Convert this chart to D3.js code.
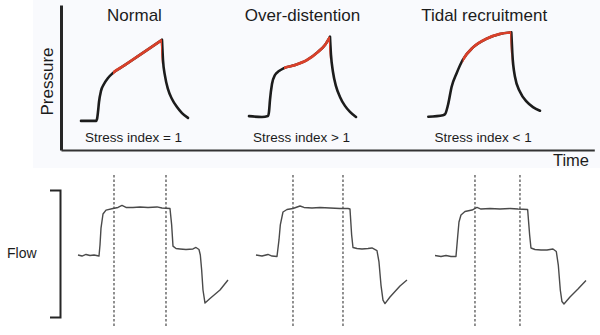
<!DOCTYPE html>
<html>
<head>
<meta charset="utf-8">
<script src="https://cdn.jsdelivr.net/npm/d3@7"></script>
<style>
  body { margin: 0; background: #ffffff; }
  svg { display: block; }
  text { font-family: "Liberation Sans", Arial, Helvetica, sans-serif; fill: #1c1c1c; }
</style>
</head>
<body>
<svg id="chart" width="600" height="335"></svg>
<script>
// ---- data -------------------------------------------------------------
// time in centiseconds along a shared axis, pressure in cmH2O, flow in L/min
const panelTitles = ["Normal", "Over-distention", "Tidal recruitment"];
const stressLabels = ["Stress index = 1", "Stress index > 1", "Stress index < 1"];

// airway pressure, one breath per condition: [time, pressure]
const pressureNormal = [
  [30, 4.7], [52.5, 4.7], [54, 5.3], [55.5, 7.7], [57, 11], [60, 14.7],
  [64.5, 17], [70.5, 19], [78, 20.7], [95, 23.2], [115, 26.2], [135, 29.2],
  [151.5, 31.7], [153, 25], [156, 19.7], [160.5, 15.3], [166.5, 12], [174, 9.3],
  [181.5, 7.3], [190.5, 5.7]
];
const pressureOverDistention = [
  [282, 6.3], [301.5, 6], [310.5, 6.3], [312, 7.7], [313.5, 11.7], [316.5, 17],
  [321, 20], [327, 21.3], [334.5, 22.3], [351, 23.3], [369, 25], [385.5, 27.7],
  [396, 30], [403.5, 32.7], [405, 26.7], [408, 21], [412.5, 16.3], [418.5, 12.7],
  [426, 9.7], [433.5, 7.7], [442.5, 6]
];
const pressureTidalRecruitment = [
  [551, 6.1], [573, 6.6], [576, 6.9], [580.5, 10], [586, 16.1], [593.5, 20.6],
  [602.5, 25], [618, 29.2], [638.5, 32.1], [658.5, 33.7], [675.5, 34.2],
  [677, 27.3], [681, 19.4], [688.5, 14.4], [698.5, 11.1], [708, 9.3], [718.5, 8.1]
];

// time span of the constant-flow inflation used for the stress index
const inflationNormal = [78, 151.5];
const inflationOverDistention = [334.5, 403.5];
const inflationTidalRecruitment = [602.5, 675.5];

// inspiratory flow, one breath per condition: [time, flow]
const flowNormal = [
  [25.5, -1.4], [31.5, -2.4], [37.5, -0.9], [43.5, -1.9], [49.5, -1.4], [57, -2.4],
  [58.5, 8], [60, 24], [63, 37.3], [67.5, 41], [78, 42.5], [85.5, 43.5], [91.5, 45.4],
  [97.5, 43.5], [108, 43.5], [118.5, 44], [130.5, 43.5], [144, 44], [151.5, 43],
  [163.5, 42.5], [166, 27], [168, 7], [172.5, 4.7], [178.5, 4.3], [187.5, 3.8],
  [198, 4.3], [202.5, 5.7], [207, 3.8], [209, -1.4], [211, -15.6], [213, -34.5],
  [216, -46.8], [223.5, -42.5], [238.5, -34.5], [250.5, -25]
];
const flowOverDistention = [
  [292.5, -1.4], [301.5, -2.4], [310.5, -0.9], [316.5, -2.4], [324, -2.8],
  [327, 12.8], [329, 27], [333, 39.2], [339, 41.6], [348, 42.5], [358.5, 44.9],
  [364.5, 43.5], [376.5, 43], [388.5, 43.5], [403.5, 43], [418.5, 42.5],
  [430.5, 42.5], [433.5, 42], [436, 17.5], [438, 5.7], [444, 4.7], [451.5, 4.3],
  [460.5, 4.7], [466.5, 5.2], [474, 2.8], [477, -8], [480, -29.8], [483, -44],
  [486, -47.3], [493.5, -41.1], [508.5, -30.7], [519, -25]
];
const flowTidalRecruitment = [
  [561, -1.9], [570, -2.8], [577.5, -1.9], [585, -2.8], [592.5, -2.8], [595, 15.6],
  [597, 29.8], [600, 36.4], [606, 39.7], [616.5, 41.1], [624, 43.5], [630, 42],
  [643.5, 42.5], [658.5, 42], [673.5, 42.5], [685.5, 42], [700, 41.6], [703, 17.5],
  [705, 5.2], [711, 3.8], [720, 3.3], [729, 3.3], [738, 4.3], [743, 1.9],
  [746, -10.9], [749, -34.5], [751.5, -45.4], [754.5, -47.7], [763.5, -41.1],
  [775.5, -33.6], [787.5, -25.5]
];

// dashed markers bracketing the constant-flow window
const flowWindowNormal = [79.5, 157.5];
const flowWindowOverDistention = [348, 423];
const flowWindowTidalRecruitment = [621, 688.5];

// ---- drawing ----------------------------------------------------------
const svg = d3.select("#chart");
const defs = svg.append("defs");

const x = d3.scaleLinear().domain([0, 800]).range([61, 594.3]);
const yP = d3.scaleLinear().domain([0, 35]).range([135, 30]);
const yF = d3.scaleLinear().domain([-60, 60]).range([317, 190]);

const ink = "#1c1c1c";

// faint panel behind the pressure plot
svg.append("rect")
  .attr("x", 33).attr("y", 0).attr("width", 567).attr("height", 168)
  .attr("fill", "#f9fafd");

// pressure frame: vertical and horizontal axis lines
const yFrame = d3.scaleLinear().domain([yP.invert(150), yP.invert(5)]).range([150, 5]);
svg.append("g")
  .attr("transform", `translate(${x.range()[0]},0)`)
  .call(d3.axisLeft(yFrame).tickValues([]).tickSizeOuter(0))
  .call(g => g.select(".domain").attr("stroke", "#262626").attr("stroke-width", 3));
svg.append("g")
  .attr("transform", `translate(0,150)`)
  .call(d3.axisBottom(x).tickValues([]).tickSizeOuter(0))
  .call(g => g.select(".domain").attr("stroke", "#333").attr("stroke-width", 2));

svg.append("text")
  .attr("transform", `translate(52.5,${(yFrame.range()[0] + yFrame.range()[1]) / 2 + 4}) rotate(-90)`)
  .attr("text-anchor", "middle")
  .style("font-size", "17px")
  .text("Pressure");
svg.append("text")
  .attr("x", 589).attr("y", 165.5)
  .attr("text-anchor", "end")
  .style("font-size", "16.5px")
  .text("Time");

const pressureLine = d3.line()
  .x(d => x(d[0])).y(d => yP(d[1]))
  .curve(d3.curveMonotoneX);

// inflation and release are smoothed separately so the end-inspiratory peak stays sharp
function pressurePath(points) {
  const peak = d3.maxIndex(points, d => d[1]);
  return pressureLine(points.slice(0, peak + 1)) + pressureLine(points.slice(peak));
}

const breaths = [
  { p: pressureNormal, win: inflationNormal, flow: flowNormal, marks: flowWindowNormal },
  { p: pressureOverDistention, win: inflationOverDistention, flow: flowOverDistention, marks: flowWindowOverDistention },
  { p: pressureTidalRecruitment, win: inflationTidalRecruitment, flow: flowTidalRecruitment, marks: flowWindowTidalRecruitment }
];

breaths.forEach((b, i) => {
  const ext = d3.extent(b.p, d => d[0]);
  const cx = x((ext[0] + ext[1]) / 2);

  svg.append("text")
    .attr("x", cx).attr("y", 21)
    .attr("text-anchor", "middle")
    .style("font-size", "17px")
    .text(panelTitles[i]);

  svg.append("text")
    .attr("x", cx - 1).attr("y", 141.5)
    .attr("text-anchor", "middle")
    .style("font-size", "13.5px")
    .text(stressLabels[i]);

  const d = pressurePath(b.p);

  svg.append("path")
    .attr("d", d)
    .attr("fill", "none")
    .attr("stroke", ink)
    .attr("stroke-width", 2.6)
    .attr("stroke-linecap", "round")
    .attr("stroke-linejoin", "round");

  // highlight the inflation window in red on top of the same trace
  const clipId = `inflation-${i}`;
  defs.append("clipPath").attr("id", clipId)
    .append("rect")
    .attr("x", x(b.win[0])).attr("width", x(b.win[1]) - x(b.win[0]))
    .attr("y", 0).attr("height", 150);

  svg.append("path")
    .attr("d", d)
    .attr("clip-path", `url(#${clipId})`)
    .attr("fill", "none")
    .attr("stroke", "#d9402a")
    .attr("stroke-width", 2.7)
    .attr("stroke-linejoin", "round");
});

// flow bracket with label
svg.append("g")
  .attr("transform", "translate(60,0)")
  .call(d3.axisLeft(yF).tickValues([]).tickSizeOuter(10))
  .call(g => g.select(".domain").attr("stroke", "#262626").attr("stroke-width", 2).attr("fill", "none"));
svg.append("text")
  .attr("x", 7).attr("y", 258.3)
  .style("font-size", "14px")
  .text("Flow");

const flowLine = d3.line()
  .x(d => x(d[0])).y(d => yF(d[1]))
  .curve(d3.curveLinear);

breaths.forEach(b => {
  svg.selectAll(null)
    .data(b.marks)
    .join("line")
    .attr("x1", d => x(d)).attr("x2", d => x(d))
    .attr("y1", 175).attr("y2", 327)
    .attr("stroke", "#555")
    .attr("stroke-width", 1.3)
    .attr("stroke-dasharray", "2.5,2");

  svg.append("path")
    .datum(b.flow)
    .attr("d", flowLine)
    .attr("fill", "none")
    .attr("stroke", "#4a4a4a")
    .attr("stroke-width", 1.4)
    .attr("stroke-linejoin", "round");
});
</script>
</body>
</html>
